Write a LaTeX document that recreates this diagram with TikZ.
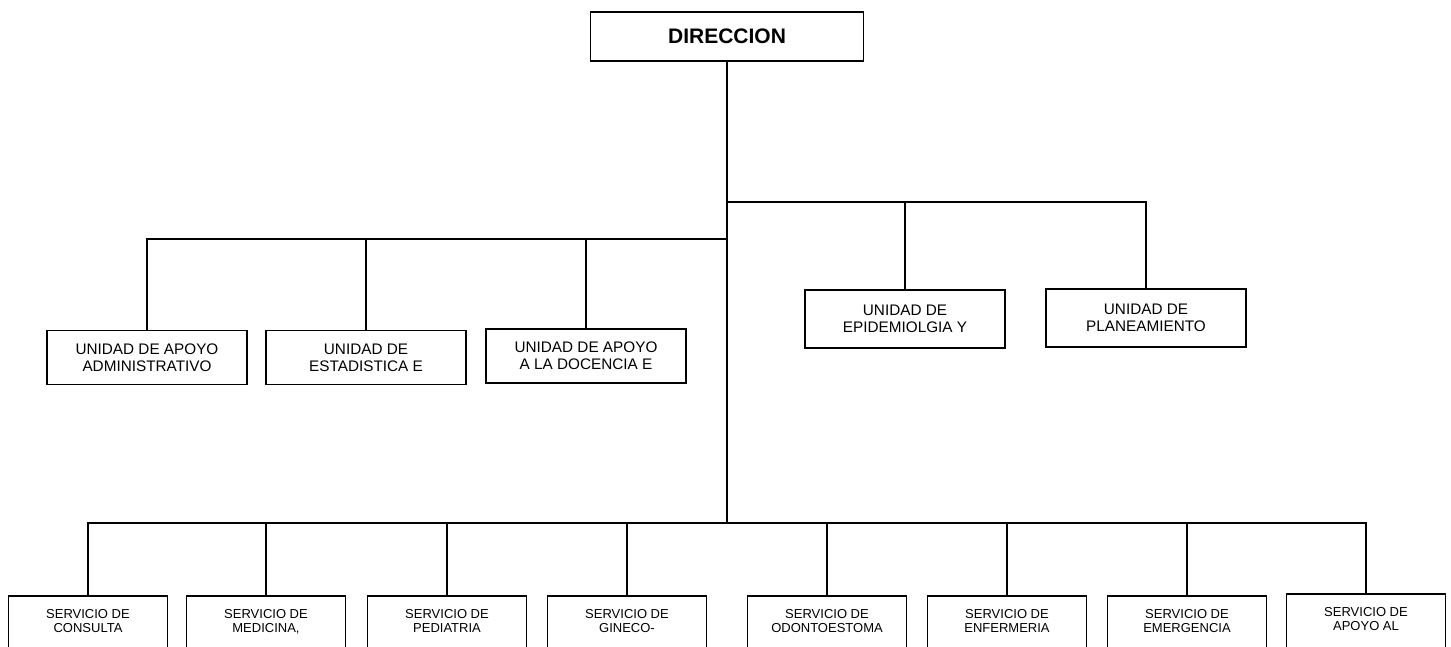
\documentclass[tikz,border=0pt]{standalone}
\usepackage{fontspec}
\setmainfont{Liberation Sans}
\begin{document}
\begin{tikzpicture}[x=1pt,y=-1pt,
  topbox/.style={draw, line width=1.6pt, minimum width=273pt, minimum height=49pt, inner sep=0pt, font=\fontsize{21}{24}\selectfont\bfseries},
  midbox/.style={draw, line width=1.6pt, minimum width=200pt, minimum height=54pt, inner sep=0pt, align=center, font=\fontsize{15.3}{17}\selectfont},
  botbox/.style={draw, line width=1.6pt, minimum width=159pt, minimum height=80pt, inner sep=0pt},
  bottext/.style={anchor=north, align=center, inner sep=0pt, yshift=-14pt, font=\fontsize{13}{14}\selectfont},
  conn/.style={line width=1.5pt}]
\useasboundingbox (0,0) rectangle (1451,646);
\node[topbox] (dir) at (727,36.5) {DIRECCION};
\coordinate (tr) at (727,202);
\coordinate (tl) at (727,239);
\coordinate (tb) at (727,523);
% middle
\node[midbox] (m1) at (147,357.5) {UNIDAD DE APOYO\\ADMINISTRATIVO};
\node[midbox] (m2) at (366,357.5) {UNIDAD DE\\ESTADISTICA E};
\node[midbox] (m3) at (586,356) {UNIDAD DE APOYO\\A LA DOCENCIA E};
\node[midbox, minimum height=58pt] (m4) at (905,319) {UNIDAD DE\\EPIDEMIOLGIA Y};
\node[midbox, minimum height=58pt] (m5) at (1146,318) {UNIDAD DE\\PLANEAMIENTO};
% bottom
\node[botbox, label={[bottext]north:{SERVICIO DE\\CONSULTA}}] (b1) at (88,636) {};
\node[botbox, label={[bottext]north:{SERVICIO DE\\MEDICINA,}}] (b2) at (266,636) {};
\node[botbox, label={[bottext]north:{SERVICIO DE\\PEDIATRIA}}] (b3) at (447,636) {};
\node[botbox, label={[bottext]north:{SERVICIO DE\\GINECO-}}] (b4) at (627,636) {};
\node[botbox, label={[bottext]north:{SERVICIO DE\\ODONTOESTOMA}}] (b5) at (827,636) {};
\node[botbox, label={[bottext]north:{SERVICIO DE\\ENFERMERIA}}] (b6) at (1007,636) {};
\node[botbox, label={[bottext]north:{SERVICIO DE\\EMERGENCIA}}] (b7) at (1187,636) {};
\node[botbox, label={[bottext]north:{SERVICIO DE\\APOYO AL}}] (b8) at (1366,634) {};
% connectors
\draw[conn] (dir.south) -- (tb);
\draw[conn] (m1.north) |- (tl);
\draw[conn] (m2.north) -- (m2.north |- tl);
\draw[conn] (m3.north) -- (m3.north |- tl);
\draw[conn] (m5.north) |- (tr);
\draw[conn] (m4.north) -- (m4.north |- tr);
\draw[conn] (b1.north) |- (tb);
\draw[conn] (b8.north) |- (tb);
\foreach \b in {b2,b3,b4,b5,b6,b7} {\draw[conn] (\b.north) -- (\b.north |- tb);}
\end{tikzpicture}
\end{document}
